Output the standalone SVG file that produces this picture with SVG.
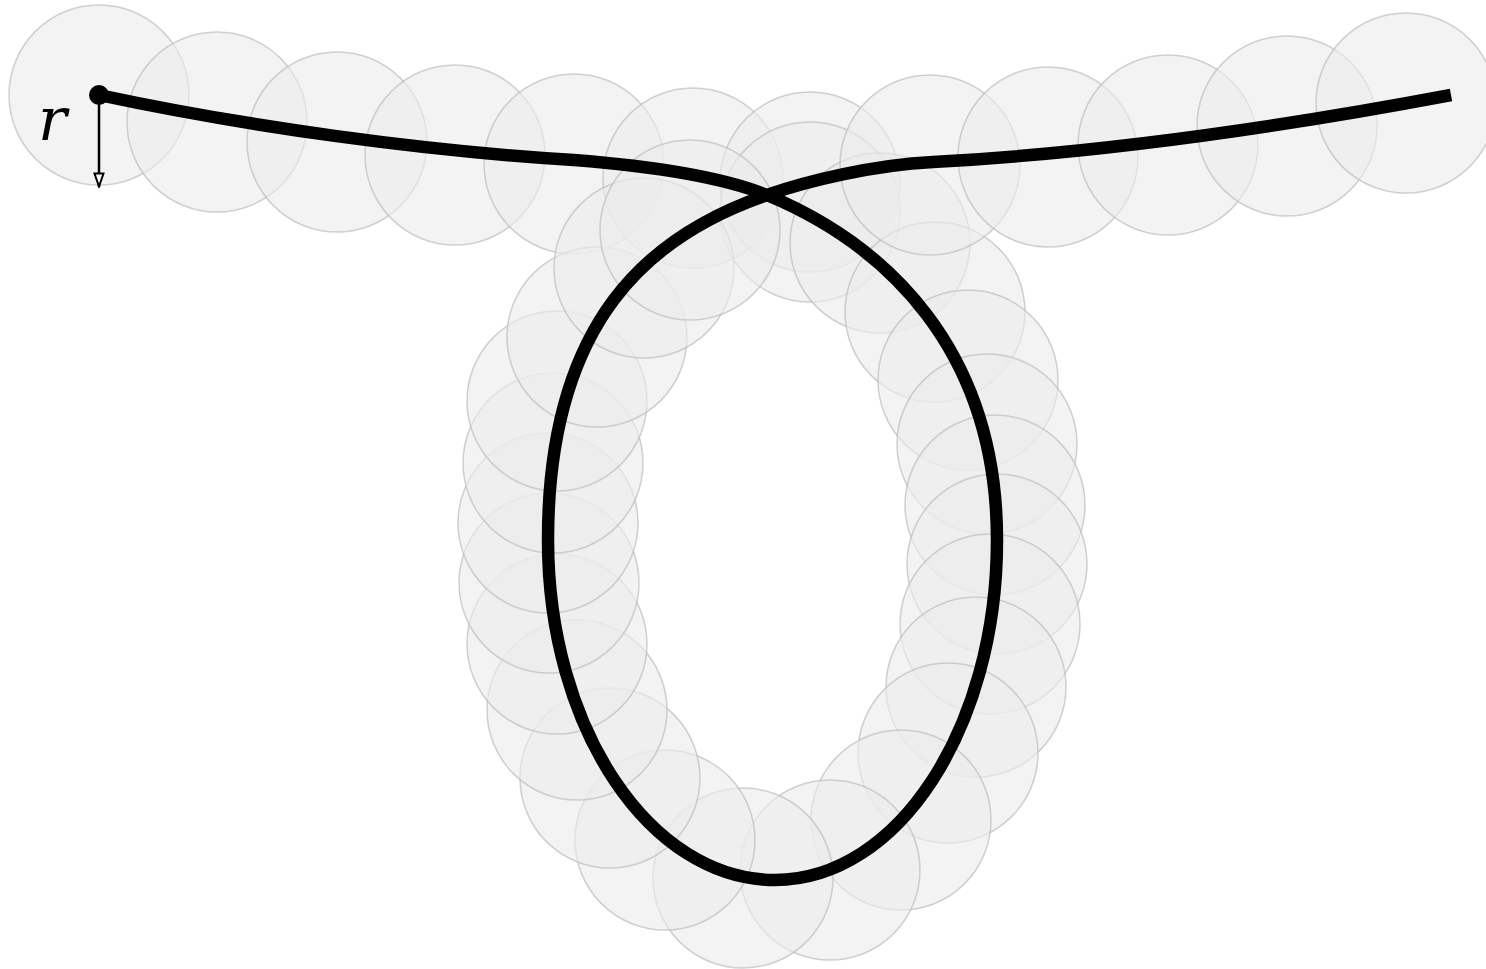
<svg xmlns="http://www.w3.org/2000/svg" width="1486" height="969" viewBox="0 0 1486 969">
<style>
.c{fill:#ececec;fill-opacity:0.62;stroke:#bdbdbd;stroke-opacity:0.7;stroke-width:1.5}
.curve{fill:none;stroke:#000;stroke-width:12.5;stroke-linejoin:round;stroke-linecap:butt}
.lbl{font-family:"DejaVu Serif","Liberation Serif",serif;font-style:italic;font-size:60px;fill:#000}
</style>
<defs>
<marker id="ah" viewBox="0 0 16 12" refX="15" refY="6" markerWidth="16" markerHeight="12" markerUnits="userSpaceOnUse" orient="auto">
<path d="M1.5,1.5 L14.5,6 L1.5,10.5 Z" fill="#fff" stroke="#000" stroke-width="2" stroke-linejoin="miter"/>
</marker>
</defs>
<rect width="1486" height="969" fill="#fff"/>
<g id="circles">
<circle class="c" cx="99" cy="95" r="90"/>
<circle class="c" cx="217" cy="122" r="90"/>
<circle class="c" cx="337" cy="142" r="90"/>
<circle class="c" cx="455" cy="155" r="90"/>
<circle class="c" cx="574" cy="164" r="90"/>
<circle class="c" cx="693" cy="178" r="90"/>
<circle class="c" cx="810" cy="182" r="90"/>
<circle class="c" cx="810" cy="212" r="90"/>
<circle class="c" cx="880" cy="243" r="90"/>
<circle class="c" cx="935" cy="312" r="90"/>
<circle class="c" cx="968" cy="380" r="90"/>
<circle class="c" cx="987" cy="444" r="90"/>
<circle class="c" cx="995" cy="505" r="90"/>
<circle class="c" cx="997" cy="564" r="90"/>
<circle class="c" cx="990" cy="624" r="90"/>
<circle class="c" cx="976" cy="687" r="90"/>
<circle class="c" cx="948" cy="753" r="90"/>
<circle class="c" cx="901" cy="820" r="90"/>
<circle class="c" cx="830" cy="870" r="90"/>
<circle class="c" cx="743" cy="878" r="90"/>
<circle class="c" cx="665" cy="840" r="90"/>
<circle class="c" cx="610" cy="778" r="90"/>
<circle class="c" cx="577" cy="710" r="90"/>
<circle class="c" cx="557" cy="644" r="90"/>
<circle class="c" cx="549" cy="583" r="90"/>
<circle class="c" cx="548" cy="523" r="90"/>
<circle class="c" cx="553" cy="463" r="90"/>
<circle class="c" cx="557" cy="401" r="90"/>
<circle class="c" cx="597" cy="337" r="90"/>
<circle class="c" cx="644" cy="268" r="90"/>
<circle class="c" cx="690" cy="230" r="90"/>
<circle class="c" cx="930" cy="165" r="90"/>
<circle class="c" cx="1048" cy="157" r="90"/>
<circle class="c" cx="1168" cy="145" r="90"/>
<circle class="c" cx="1287" cy="126" r="90"/>
<circle class="c" cx="1406" cy="103" r="90"/>
</g>
<g id="connectors">
<path class="curve" d="M99,95 C249,127 424,151 574,160 C638,165 717,175 767,195 C887,245 997,350 997,540 C997,728 898,880 775,880 C650,880 548,728 548,540 C548,320 650,235 767,195 C807,181 873,165 933,162 C1103,153 1281,127 1451,95"/>
<line x1="99" y1="95" x2="99" y2="187" stroke="#000" stroke-width="2.5" marker-end="url(#ah)"/>
</g>
<g id="start">
<circle cx="99" cy="95" r="10" fill="#000"/>
</g>
<g id="label">
<text class="lbl" x="38" y="140">r</text>
</g>
</svg>
